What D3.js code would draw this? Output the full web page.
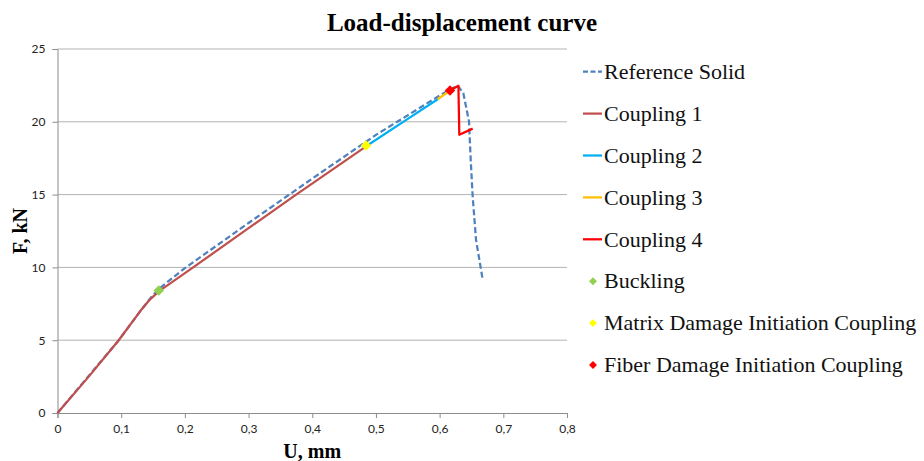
<!DOCTYPE html>
<html>
<head>
<meta charset="utf-8">
<script src="https://cdn.jsdelivr.net/npm/d3@7"></script>
<style>
  body { margin: 0; background: #fff; }
  svg { display: block; }
</style>
</head>
<body>
<svg id="chart" width="924" height="461"></svg>
<script>
// data (U in mm, F in kN)
const referenceSolid = [[0, 0], [0.05, 2.6], [0.0955, 4.96], [0.13, 7.0], [0.148, 8.0], [0.16, 8.55],
  [0.2, 9.95], [0.3, 13.05], [0.4, 16.1], [0.5, 19.1], [0.6, 21.8], [0.62, 22.3], [0.6288, 22.47],
  [0.6372, 21.97], [0.6461, 20.03], [0.6488, 17.4], [0.6519, 14.88], [0.6571, 11.91], [0.6676, 9.17]];
const coupling1 = [[0, 0], [0.05, 2.55], [0.0955, 4.96], [0.13, 7.0], [0.145, 7.79], [0.159, 8.35],
  [0.213, 10.0], [0.3, 12.7], [0.373, 14.95], [0.484, 18.3]];
const coupling2 = [[0.484, 18.3], [0.55, 20.2], [0.597, 21.55]];
const coupling3 = [[0.597, 21.55], [0.6163, 22.15]];
const coupling4 = [[0.6163, 22.15], [0.6295, 22.47], [0.6309, 19.11], [0.6519, 19.53]];
const buckling = [[0.159, 8.41]];
const matrixDamage = [[0.4844, 18.38]];
const fiberDamage = [[0.6163, 22.15]];

const xTicks = [0, 0.1, 0.2, 0.3, 0.4, 0.5, 0.6, 0.7, 0.8];
const yTicks = [0, 5, 10, 15, 20, 25];

const lineSeries = [
  { name: "Reference Solid", values: referenceSolid, color: "#4f81bd", dash: "6,3" },
  { name: "Coupling 1", values: coupling1, color: "#c0504d" },
  { name: "Coupling 2", values: coupling2, color: "#00b0f0" },
  { name: "Coupling 3", values: coupling3, color: "#ffc000" },
  { name: "Coupling 4", values: coupling4, color: "#ff0000" }
];
const pointSeries = [
  { name: "Buckling", values: buckling, color: "#92d050" },
  { name: "Matrix Damage Initiation Coupling", values: matrixDamage, color: "#ffff00" },
  { name: "Fiber Damage Initiation Coupling", values: fiberDamage, color: "#ff0000" }
];

const svg = d3.select("#chart");
const margin = { left: 57.5, right: 357, top: 49, bottom: 48 };
const width = 924, height = 461;

const x = d3.scaleLinear().domain([0, 0.8]).range([margin.left, width - margin.right]);
const y = d3.scaleLinear().domain([0, 25]).range([height - margin.bottom, margin.top]);

// decimal comma like the original
const xFmt = d => d === 0 ? "0" : String(+d.toFixed(1)).replace(".", ",");

// gridlines
svg.append("g")
  .selectAll("line")
  .data(yTicks.filter(d => d > 0))
  .join("line")
  .attr("x1", x(0)).attr("x2", x(0.8))
  .attr("y1", d => y(d)).attr("y2", d => y(d))
  .attr("stroke", "#b3b3b3").attr("stroke-width", 1);

// axes
const xAxis = svg.append("g")
  .attr("transform", `translate(0,${y(0)})`)
  .call(d3.axisBottom(x).tickValues(xTicks).tickFormat(xFmt).tickSize(5).tickPadding(6));
const yAxis = svg.append("g")
  .attr("transform", `translate(${x(0)},0)`)
  .call(d3.axisLeft(y).tickValues(yTicks).tickSize(5).tickPadding(7));

[xAxis, yAxis].forEach(a => {
  a.select(".domain").attr("stroke", "#8c8c8c");
  a.selectAll(".tick line").attr("stroke", "#8c8c8c");
  a.selectAll("text").attr("font-family", "Lato, 'Open Sans', sans-serif")
    .attr("font-size", "12px").attr("fill", "#222");
});

// curves
const line = d3.line().x(d => x(d[0])).y(d => y(d[1]));
svg.append("g")
  .selectAll("path")
  .data(lineSeries)
  .join("path")
  .attr("d", d => line(d.values))
  .attr("fill", "none")
  .attr("stroke", d => d.color)
  .attr("stroke-width", 2.25)
  .attr("stroke-dasharray", d => d.dash || null)
  .attr("stroke-linejoin", "round");

// markers
const diamond = d3.symbol().type(d3.symbolDiamond2).size(70);
pointSeries.forEach(s => {
  svg.append("g")
    .selectAll("path")
    .data(s.values)
    .join("path")
    .attr("transform", d => `translate(${x(d[0])},${y(d[1])})`)
    .attr("d", diamond)
    .attr("fill", s.color);
});

// titles
svg.append("text")
  .attr("x", 462).attr("y", 31)
  .attr("text-anchor", "middle")
  .attr("font-family", "'Liberation Serif', 'Times New Roman', serif")
  .attr("font-weight", "bold").attr("font-size", "25px")
  .text("Load-displacement curve");

svg.append("text")
  .attr("x", (x(0) + x(0.8)) / 2).attr("y", 458)
  .attr("text-anchor", "middle")
  .attr("font-family", "'Liberation Serif', 'Times New Roman', serif")
  .attr("font-weight", "bold").attr("font-size", "20px")
  .text("U, mm");

svg.append("text")
  .attr("transform", `translate(27,${(y(0) + y(25)) / 2}) rotate(-90)`)
  .attr("text-anchor", "middle")
  .attr("font-family", "'Liberation Serif', 'Times New Roman', serif")
  .attr("font-weight", "bold").attr("font-size", "20px")
  .text("F, kN");

// legend
const legendItems = lineSeries.map(d => ({ ...d, kind: "line" }))
  .concat(pointSeries.map(d => ({ ...d, kind: "point" })));
const legend = svg.append("g")
  .selectAll("g")
  .data(legendItems)
  .join("g")
  .attr("transform", (d, i) => `translate(583,${71.7 + i * 41.9})`);

legend.filter(d => d.kind === "line")
  .append("line")
  .attr("x1", 0).attr("x2", 19)
  .attr("stroke", d => d.color)
  .attr("stroke-width", 2.25)
  .attr("stroke-dasharray", d => d.dash ? "5,2.5" : null);

legend.filter(d => d.kind === "point")
  .append("path")
  .attr("transform", "translate(10,0)")
  .attr("d", d3.symbol().type(d3.symbolDiamond2).size(40))
  .attr("fill", d => d.color);

legend.append("text")
  .attr("x", 21).attr("dy", "0.33em")
  .attr("font-family", "'Liberation Serif', 'Times New Roman', serif")
  .attr("font-size", "22px")
  .attr("fill", "#111")
  .text(d => d.name);
</script>
</body>
</html>
